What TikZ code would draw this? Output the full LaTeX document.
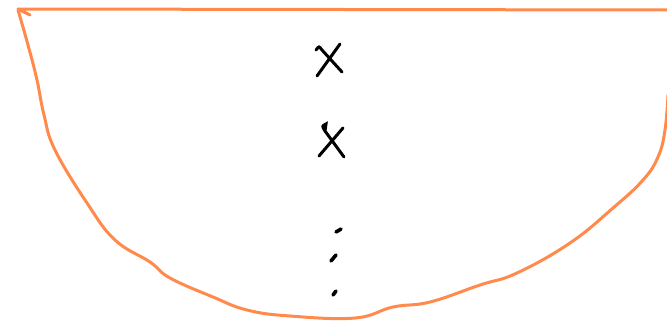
\documentclass[tikz,border=0pt]{standalone}
\usepackage{tikz}
\usetikzlibrary{calc}
\definecolor{bowlorange}{HTML}{FF8A4C}
\tikzset{
  bowl/.style={draw=bowlorange, line width=3pt, line cap=round, line join=round},
  cross/.style={draw=black, line width=3pt, line cap=round},
  dotmark/.style={draw=black, line width=3.6pt, line cap=round}
}
\begin{document}
\begin{tikzpicture}[x=1pt, y=-1pt]
            \useasboundingbox (0,0) rectangle (667,321);
            % Rim
            \draw[bowl] (30,15) -- (18,9) -- (667,10);
            % Bowl curve
            \draw[bowl] plot[smooth, tension=0.7] coordinates {
              (18,10) (28,45) (37,80) (44,115) (55,150) (87,203)
              (115,240) (150,262) (170,278) (213,297) (247,310)
              (290,316) (355,318) (393,307) (430,302) (480,285)
              (517,273) (570,243) (613,208) (643,180) (658,157) (665,130) (668,95)};
            % First cross
            \draw[cross] (316,50) .. controls (319,46) .. (322,50) -- (342,72);
            \draw[cross] (340,44) -- (317,76);
            % Second cross
            \draw[cross] (325,131) .. controls (322,126) .. (326,124) -- (325,131) -- (344,157);
            \draw[cross] (343,128) -- (319,156);
            % Dots
            \draw[dotmark] (336,232) -- (341,229);
            \draw[dotmark] (331,261) -- (336,255);
            \draw[dotmark] (333,295) -- (336,291);
\end{tikzpicture}
\end{document}
